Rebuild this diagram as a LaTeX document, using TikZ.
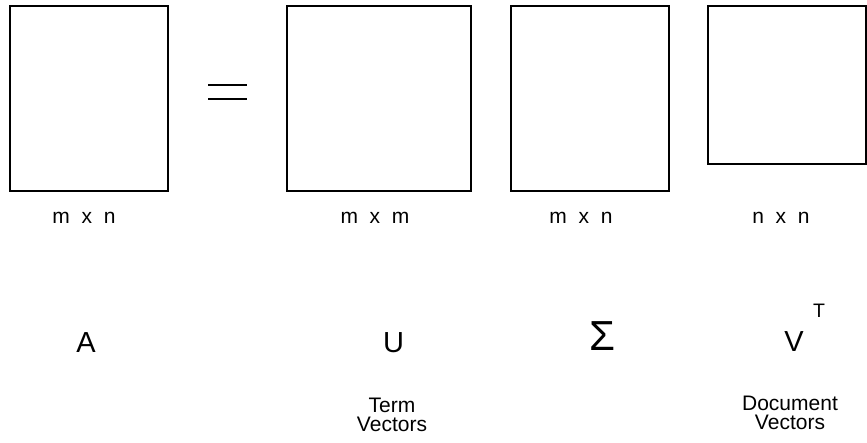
\documentclass[tikz,border=0pt]{standalone}
\usepackage{fontspec}
\setmainfont{Liberation Sans}
\usepackage{tikz}
\usetikzlibrary{positioning}
\tikzset{
    mat/.style={draw, line width=0.75pt, inner sep=0pt},
    dims/.style={anchor=base, font=\fontsize{11.95}{14}\selectfont},
    sym/.style={anchor=base, font=\fontsize{16.5}{19}\selectfont},
    note/.style={align=center, inner sep=0pt, font=\fontsize{11.95}{10.8}\selectfont}
}

\begin{document}
\begin{tikzpicture}
    \useasboundingbox (0,0) rectangle (17.34,8.86);
    % the four matrices
    \node[mat, minimum width=3.16cm, minimum height=3.70cm] (matA) at (1.78,6.89) {};
    \node[mat, minimum width=3.68cm, minimum height=3.70cm] (matU) at (7.58,6.89) {};
    \node[mat, minimum width=3.16cm, minimum height=3.70cm] (matS) at (11.80,6.89) {};
    \node[mat, minimum width=3.16cm, minimum height=3.16cm] (matV) at (15.74,7.16) {};
    \coordinate (eqa) at (4.16,7.16); \coordinate (eqb) at (4.94,7.16);
    \coordinate (eqc) at (4.16,6.88); \coordinate (eqd) at (4.94,6.88);
    \draw[line width=0.6pt] (eqa) -- (eqb);
    \draw[line width=0.6pt] (eqc) -- (eqd);
    % sizes
    \node[dims] (dimA) at (1.68,4.38) {m~~x~~n};
    \node[dims] (dimU) at (7.50,4.38) {m~~x~~m};
    \node[dims] (dimS) at (11.62,4.38) {m~~x~~n};
    \node[dims] (dimV) at (15.62,4.38) {n~~x~~n};
    % names
    \node[sym] (symA) at (1.72,1.80) {A};
    \node[sym] (symU) at (7.87,1.80) {U};
    \node[anchor=base, font=\fontsize{23.9}{26}\selectfont] (symS) at (12.04,1.84) {Σ};
    \node[sym] (symV) at (15.88,1.82) {V};
    \node[anchor=base, font=\fontsize{11.1}{13}\selectfont] (symT) at (16.38,2.50) {T};
    \node[note] (termvec) at (7.84,0.56) {Term\\Vectors};
    \node[note] (docvec) at (15.80,0.60) {Document\\Vectors};
\end{tikzpicture}
\end{document}
